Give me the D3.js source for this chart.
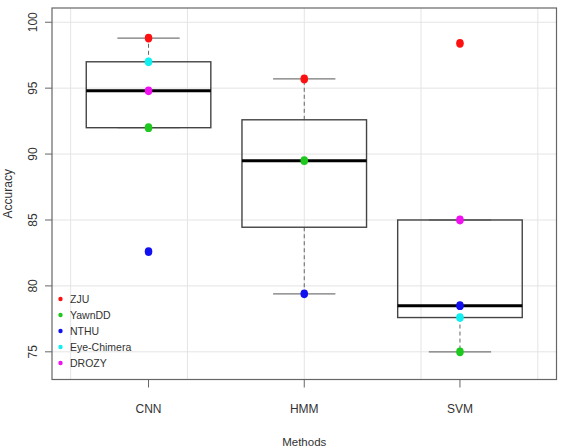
<!DOCTYPE html>
<html><head><meta charset="utf-8">
<script src="https://cdn.jsdelivr.net/npm/d3@7"></script>
<style>
html,body{margin:0;padding:0;background:#fff;}
svg{display:block;font-family:"Liberation Sans",Arial,sans-serif;}
</style></head>
<body>
<svg id="chart" width="562" height="447"></svg>
<script>
// ---- data ----
const methods = ["CNN", "HMM", "SVM"];
const datasets = ["ZJU", "YawnDD", "NTHU", "Eye-Chimera", "DROZY"];
const datasetColors = ["#ff1010", "#1ec81e", "#1010f0", "#10f0f0", "#f010f0"];
// accuracy per dataset, one array per method (null = not reported)
const cnnValues = [98.8, 92.0, 82.6, 97.0, 94.8];
const hmmValues = [95.7, 89.5, 79.4, null, null];
const svmValues = [98.4, 75.0, 78.5, 77.6, 85.0];
const yTicks = [75, 80, 85, 90, 95, 100];
const xGrid = [0.5, 1.25, 2.0, 2.75, 3.5];

const valuesByMethod = [cnnValues, hmmValues, svmValues];

// ---- layout ----
const plot = {left: 52, top: 8, right: 556.5, bottom: 379.5};
const svg = d3.select("#chart");

const x = d3.scaleLinear().domain([0.38, 3.62]).range([plot.left, plot.right]);
const y = d3.scaleLinear().domain([72.9, 101.08]).range([plot.bottom, plot.top]);

// grid
const g = svg.append("g");
g.selectAll("line.hg").data(yTicks).join("line")
  .attr("x1", plot.left).attr("x2", plot.right)
  .attr("y1", d => y(d)).attr("y2", d => y(d))
  .attr("stroke", "#e4e4e4").attr("stroke-width", 1);
g.selectAll("line.vg").data(xGrid).join("line")
  .attr("y1", plot.top).attr("y2", plot.bottom)
  .attr("x1", d => x(d)).attr("x2", d => x(d))
  .attr("stroke", "#e4e4e4").attr("stroke-width", 1);

// box statistics (Tukey hinges, 1.5 IQR whiskers)
function stats(vals) {
  const v = vals.filter(d => d != null).sort(d3.ascending);
  const n = v.length;
  const n4 = Math.floor((n + 3) / 2) / 2;
  const d = [1, n4, (n + 1) / 2, n + 1 - n4, n];
  const q = d.map(p => 0.5 * (v[Math.floor(p) - 1] + v[Math.ceil(p) - 1]));
  const iqr = q[3] - q[1];
  const lo = d3.min(v.filter(t => t >= q[1] - 1.5 * iqr));
  const hi = d3.max(v.filter(t => t <= q[3] + 1.5 * iqr));
  return {q1: q[1], med: q[2], q3: q[3], lo, hi};
}

const boxHalf = 0.4, capHalf = 0.2;
methods.forEach((m, i) => {
  const s = stats(valuesByMethod[i]);
  const cx = i + 1;
  const bg = svg.append("g");
  // whiskers
  bg.append("line").attr("x1", x(cx)).attr("x2", x(cx))
    .attr("y1", y(s.q3)).attr("y2", y(s.hi))
    .attr("stroke", "#666").attr("stroke-dasharray", "4,3").attr("stroke-width", 1);
  bg.append("line").attr("x1", x(cx)).attr("x2", x(cx))
    .attr("y1", y(s.q1)).attr("y2", y(s.lo))
    .attr("stroke", "#666").attr("stroke-dasharray", "4,3").attr("stroke-width", 1);
  // caps
  [s.hi, s.lo].forEach(v => {
    bg.append("line").attr("x1", x(cx - capHalf)).attr("x2", x(cx + capHalf))
      .attr("y1", y(v)).attr("y2", y(v))
      .attr("stroke", "#777").attr("stroke-width", 1.2);
  });
  // box
  bg.append("rect").attr("x", x(cx - boxHalf)).attr("width", x(cx + boxHalf) - x(cx - boxHalf))
    .attr("y", y(s.q3)).attr("height", y(s.q1) - y(s.q3))
    .attr("fill", "none").attr("stroke", "#444").attr("stroke-width", 1.4);
  // median
  bg.append("line").attr("x1", x(cx - boxHalf)).attr("x2", x(cx + boxHalf))
    .attr("y1", y(s.med)).attr("y2", y(s.med))
    .attr("stroke", "#000").attr("stroke-width", 3);
});

// points
methods.forEach((m, i) => {
  const pts = valuesByMethod[i].map((v, j) => ({v, j})).filter(d => d.v != null);
  svg.append("g").selectAll("ellipse").data(pts).join("ellipse")
    .attr("cx", x(i + 1)).attr("cy", d => y(d.v))
    .attr("rx", 3.8).attr("ry", 4.4)
    .attr("fill", d => datasetColors[d.j]);
});

// plot frame
svg.append("rect").attr("x", plot.left).attr("y", plot.top)
  .attr("width", plot.right - plot.left).attr("height", plot.bottom - plot.top)
  .attr("fill", "none").attr("stroke", "#666").attr("stroke-width", 1.2);

// y axis
const ya = svg.append("g");
ya.selectAll("line").data(yTicks).join("line")
  .attr("x1", plot.left - 7).attr("x2", plot.left)
  .attr("y1", d => y(d)).attr("y2", d => y(d))
  .attr("stroke", "#666");
ya.selectAll("text").data(yTicks).join("text")
  .attr("transform", d => `translate(36.5,${y(d)}) rotate(-90)`)
  .attr("text-anchor", "middle").attr("font-size", 12).attr("fill", "#333")
  .text(d => d);

// x axis
const xa = svg.append("g");
xa.selectAll("line").data(methods).join("line")
  .attr("x1", (d, i) => x(i + 1)).attr("x2", (d, i) => x(i + 1))
  .attr("y1", plot.bottom).attr("y2", plot.bottom + 8)
  .attr("stroke", "#666");
xa.selectAll("text").data(methods).join("text")
  .attr("x", (d, i) => x(i + 1)).attr("y", 413)
  .attr("text-anchor", "middle").attr("font-size", 12).attr("fill", "#333")
  .text(d => d);

// axis titles
svg.append("text").attr("x", x(2)).attr("y", 446)
  .attr("text-anchor", "middle").attr("font-size", 11.5).attr("fill", "#333")
  .text("Methods");
svg.append("text").attr("transform", `translate(11.5,${(plot.top + plot.bottom) / 2}) rotate(-90)`)
  .attr("text-anchor", "middle").attr("font-size", 12).attr("fill", "#333")
  .text("Accuracy");

// legend
const lg = svg.append("g");
const legY0 = 299, legStep = 16;
lg.selectAll("circle").data(datasets).join("circle")
  .attr("cx", 60.5).attr("cy", (d, i) => legY0 + i * legStep)
  .attr("r", 2.2).attr("fill", (d, i) => datasetColors[i]);
lg.selectAll("text").data(datasets).join("text")
  .attr("x", 70).attr("y", (d, i) => legY0 + i * legStep + 4)
  .attr("font-size", 10.5).attr("fill", "#333")
  .text(d => d);
</script>
</body></html>
